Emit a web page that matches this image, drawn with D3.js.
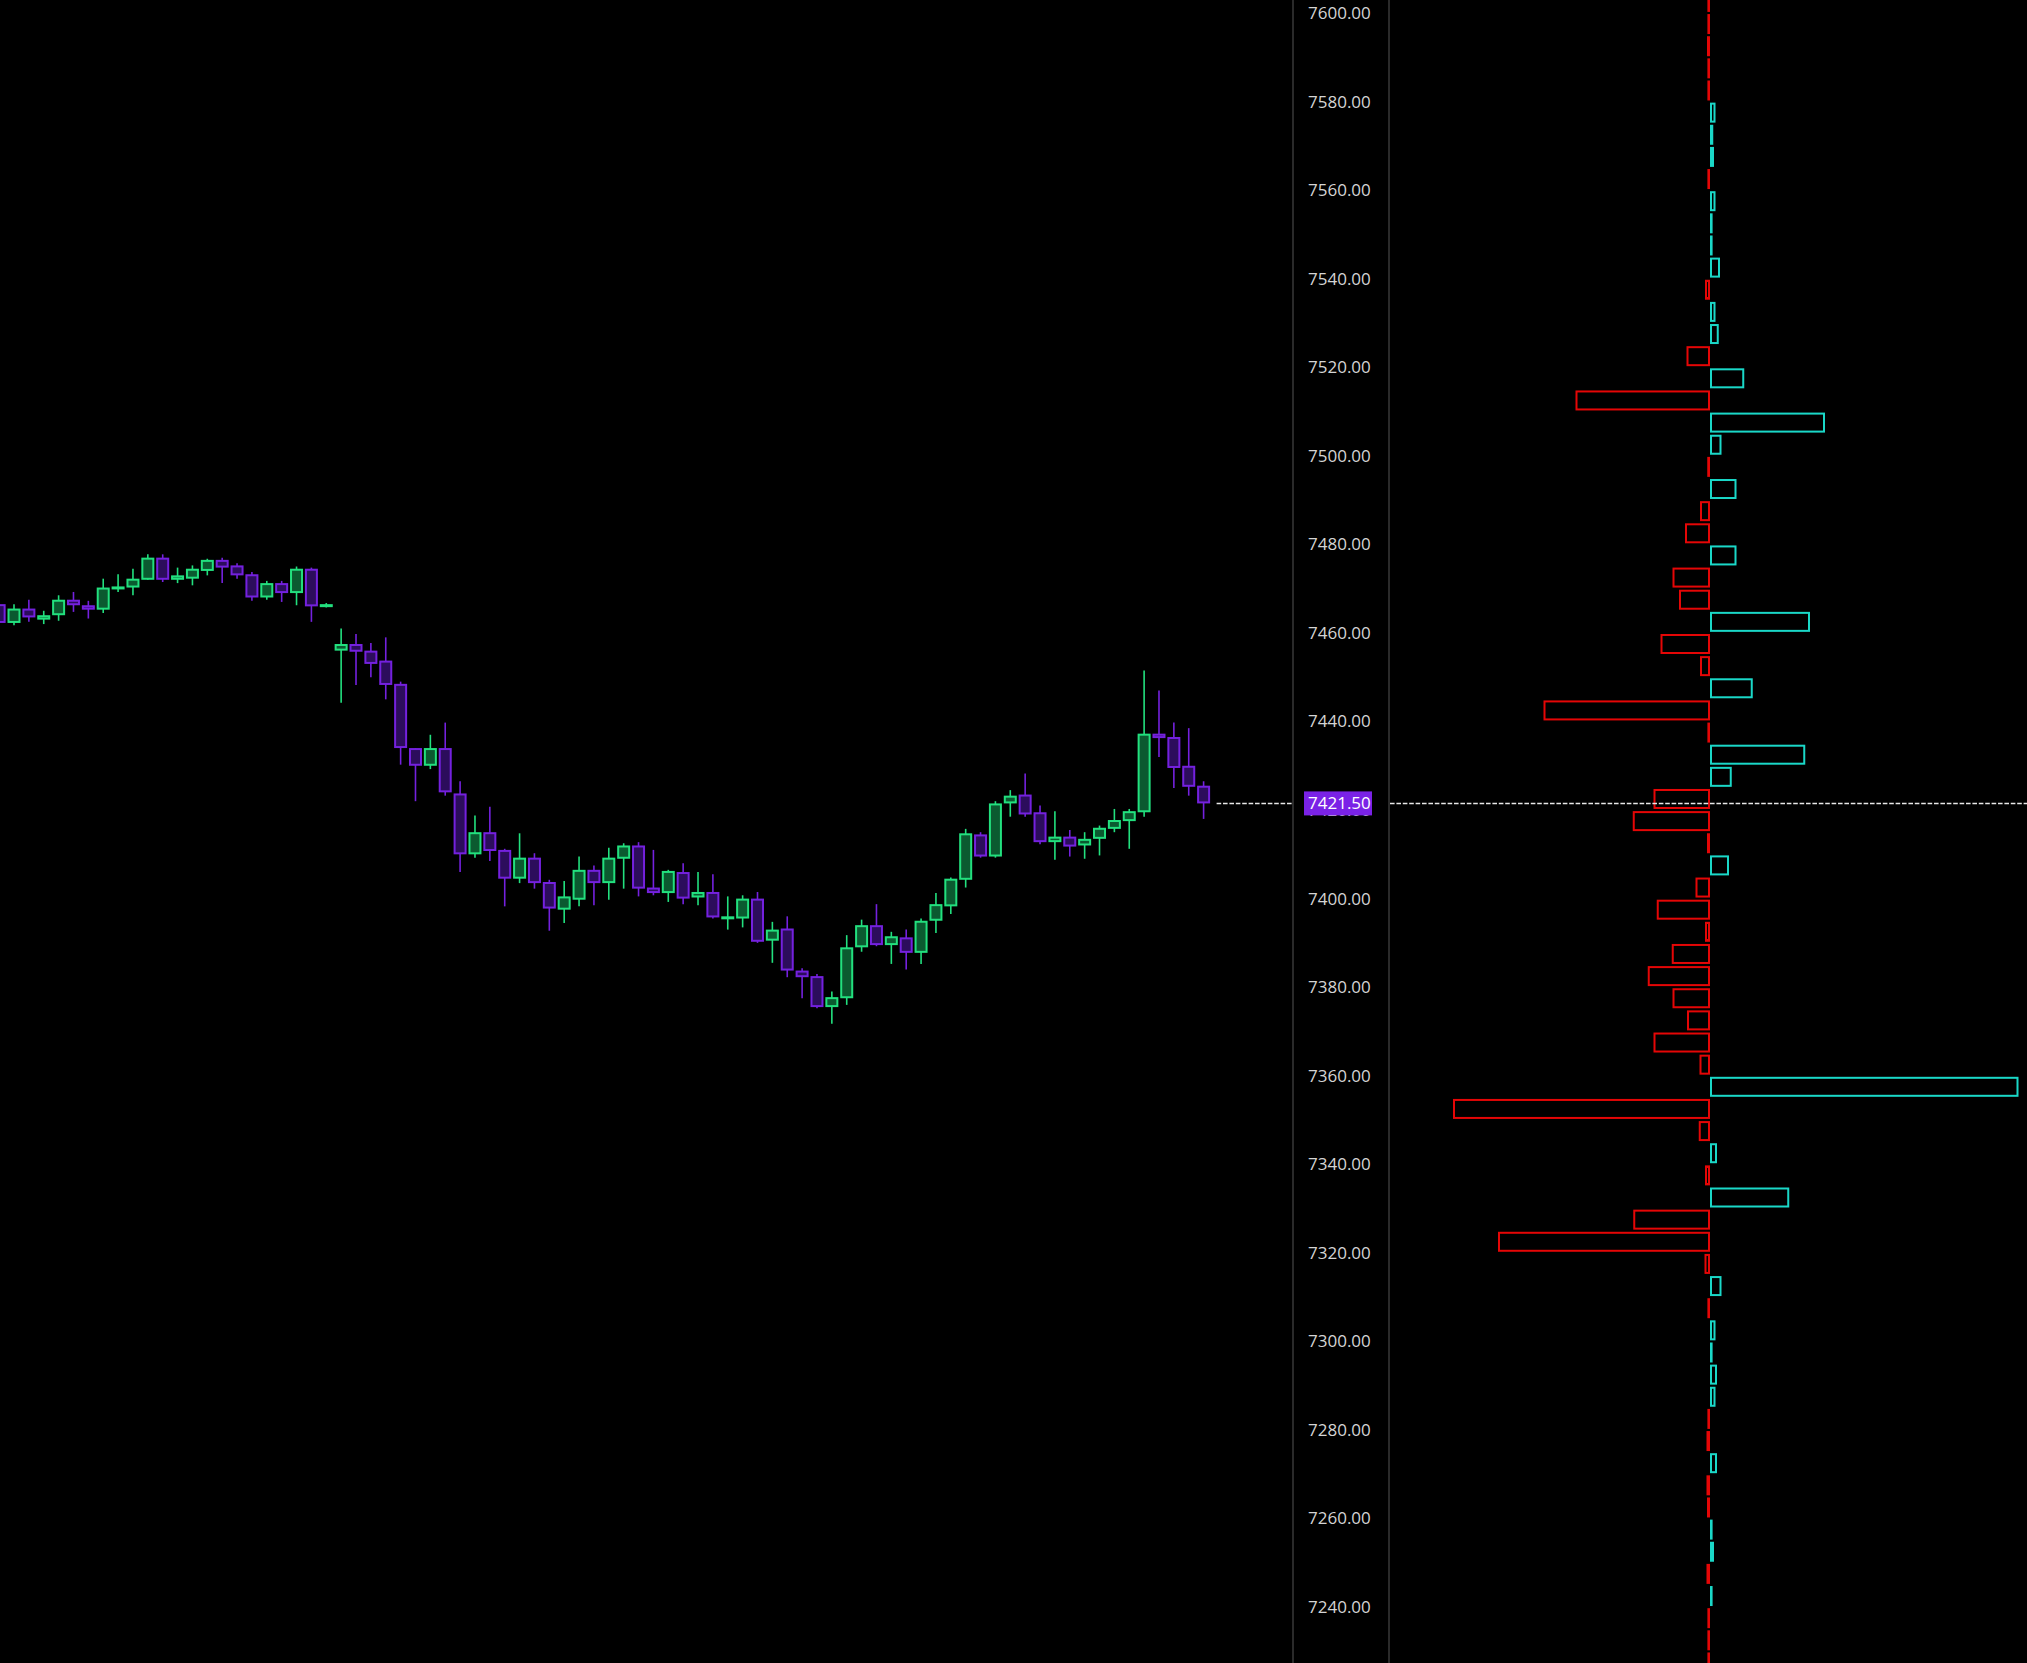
<!DOCTYPE html>
<html><head><meta charset="utf-8">
<script src="https://cdn.jsdelivr.net/npm/d3@7/dist/d3.min.js"></script>
<style>html,body{margin:0;padding:0;background:#000;overflow:hidden}</style>
</head><body>
<svg id="c" width="2027" height="1663"></svg>
<script>
// ---- candle data (bar index -1 is the partially visible first bar) ----
const barIdx = [-1,0,1,2,3,4,5,6,7,8,9,10,11,12,13,14,15,16,17,18,19,20,21,22,23,24,25,26,27,28,29,30,31,32,33,34,35,36,37,38,39,40,41,42,43,44,45,46,47,48,49,50,51,52,53,54,55,56,57,58,59,60,61,62,63,64,65,66,67,68,69,70,71,72,73,74,75,76,77,78,79,80];
const opens  = [7466.5,7462.25,7465.5,7463,7464,7467.5,7466.25,7465.25,7470,7470.25,7472,7477,7472,7472.25,7474,7476.5,7475.25,7473.25,7468,7471.25,7469,7474.5,7466,7456,7457.5,7456,7453.75,7448.5,7434,7430,7434,7423.75,7410,7415,7411,7404.5,7409.25,7403.75,7397.5,7399.75,7406.5,7403.5,7409,7412,7402.5,7401.25,7406,7400.25,7401.5,7395.5,7395.5,7400,7390.5,7393.25,7383.75,7382.5,7375.5,7377.5,7389,7394,7389.5,7391.25,7387.75,7395,7398.25,7404.25,7414.5,7409.5,7421.5,7423.5,7419.5,7412.75,7414,7412,7413.5,7415.75,7417.5,7419.5,7437.25,7436.5,7430,7425.5];
const highs  = [7466.75,7466.5,7467.5,7465,7468.5,7469.25,7467.25,7472.25,7473.25,7474.5,7477.75,7477.75,7474.75,7475.25,7476.75,7477,7475.75,7473.75,7471.75,7471.75,7475,7474.75,7466.75,7461,7459.75,7457.75,7459,7449,7434,7437,7439.75,7426.5,7418.75,7420.75,7411.25,7414.75,7410.25,7404.25,7404,7409.5,7407.5,7411.5,7412.5,7412.75,7411,7406.5,7408,7406,7405.5,7400.5,7400.75,7401.5,7394.75,7396,7384.25,7383,7379,7391.75,7395.25,7398.75,7392.5,7393,7395.5,7401.25,7404.75,7415.75,7415,7422,7424.5,7428.25,7421,7419.75,7415.5,7415,7416.5,7420.25,7420.25,7451.5,7447,7439.75,7438.5,7426.5];
const lows   = [7462,7461.75,7462.5,7462,7462.75,7464.75,7463.25,7464.5,7469.25,7468.5,7472,7471.5,7471.25,7470.75,7473,7471.25,7472.25,7467.25,7467.5,7467,7466.25,7462.5,7465.75,7444.25,7448.25,7450,7445,7430.25,7422,7429.25,7423.25,7406,7409.25,7408.5,7398.25,7403.5,7402.25,7392.75,7394.5,7398.25,7398.5,7399.75,7402.25,7400.5,7400.75,7399.25,7398.75,7398.5,7395.5,7393,7393.5,7390,7385.5,7382.25,7377.5,7375.25,7371.75,7376,7388,7389.25,7385.25,7384,7385.25,7392.25,7396.5,7402.5,7409.25,7409.25,7418.5,7418.5,7412.25,7408.75,7409.5,7409,7409.75,7415,7411.25,7418.5,7432,7425,7423.25,7418];
const closes = [7462.25,7465.5,7463.5,7464,7467.5,7466.25,7465.25,7470.25,7470.5,7472.25,7477,7472,7473,7474.5,7476.5,7474.75,7473,7468,7471.25,7469,7474.5,7466,7466.5,7457.5,7455.75,7453,7448.25,7434,7430,7434,7424,7410,7415,7410.75,7404.5,7409.25,7403.5,7397.75,7400.5,7406.5,7403.5,7409.25,7412,7402.25,7401.25,7406.25,7400,7401.5,7395.75,7396,7400,7390.25,7393,7383.75,7382.25,7375.5,7377.75,7389,7394,7389.5,7391.5,7387.75,7395,7398.75,7404.5,7414.75,7409.5,7421.5,7423.25,7419,7412.75,7414,7411.75,7413.5,7416,7417.75,7419.75,7437.25,7436.25,7429.5,7425.25,7421.5];

// ---- volume-delta profile, 5-point bins (bin low price) ----
const binLows = [7600,7595,7590,7585,7580,7575,7570,7565,7560,7555,7550,7545,7540,7535,7530,7525,7520,7515,7510,7505,7500,7495,7490,7485,7480,7475,7470,7465,7460,7455,7450,7445,7440,7435,7430,7425,7420,7415,7410,7405,7400,7395,7390,7385,7380,7375,7370,7365,7360,7355,7350,7345,7340,7335,7330,7325,7320,7315,7310,7305,7300,7295,7290,7285,7280,7275,7270,7265,7260,7255,7250,7245,7240,7235,7230,7225];
const binDelta = [-6,-8,-12,-6,-6,22,13,16,-7,22,9,10,40,-20,22,35,-94,137,-538,460,46,-11,106,-40,-100,106,-150,-124,400,-198,-40,171,-666,-9,381,87,-226,-309,-12,76,-58,-213,-20,-153,-249,-150,-92,-226,-42,1234,-1028,-45,28,-20,317,-307,-848,-22,46,-7,22,8,28,22,-6,-14,28,-14,-12,10,16,-14,7,-9,-9,-7];

// ---- price axis ----
const tickValues = [7240,7260,7280,7300,7320,7340,7360,7380,7400,7420,7440,7460,7480,7500,7520,7540,7560,7580,7600];
const lastPrice = 7421.5;

const W = 2027, H = 1663;
const svg = d3.select("#c");
svg.append("rect").attr("width", W).attr("height", H).attr("fill", "#000");

const y = d3.scaleLinear().domain([7240, 7600]).range([1607.1, 13]);
const x = d3.scaleLinear().domain([0, 80]).range([14, 1203.6]);
const axisX = 1293, profLeft = 1389, profCenter = 1710;
const xP = d3.scaleLinear().domain([0, 1234]).range([0, 308.5]);

const GREEN = "#22e07e", GREEN_FILL = "#0b5a30";
const PURPLE = "#7421de", PURPLE_FILL = "#2c0d5c";
const CYAN = "#1ad8c8", RED = "#e50606";

const candles = barIdx.map((k, i) => ({k, o: opens[i], h: highs[i], l: lows[i], c: closes[i]}));

// separators
svg.append("line").attr("x1", axisX).attr("x2", axisX).attr("y1", 0).attr("y2", H)
  .attr("stroke", "#383838").attr("stroke-width", 1.5);
svg.append("line").attr("x1", profLeft).attr("x2", profLeft).attr("y1", 0).attr("y2", H)
  .attr("stroke", "#383838").attr("stroke-width", 1.5);

// candles
const cg = svg.append("g");
const bodyW = 11;
cg.selectAll("line.wick").data(candles).join("line")
  .attr("class", "wick")
  .attr("x1", d => x(d.k)).attr("x2", d => x(d.k))
  .attr("y1", d => y(d.h)).attr("y2", d => y(d.l))
  .attr("stroke", d => d.c >= d.o ? GREEN : PURPLE)
  .attr("stroke-width", 1.6);
cg.selectAll("rect.body").data(candles).join("rect")
  .attr("class", "body")
  .attr("x", d => x(d.k) - bodyW / 2)
  .attr("width", bodyW)
  .attr("y", d => y(Math.max(d.o, d.c)) + 1)
  .attr("height", d => Math.max(Math.abs(y(d.o) - y(d.c)) - 2, 1))
  .attr("fill", d => d.c >= d.o ? GREEN_FILL : PURPLE_FILL)
  .attr("stroke", d => d.c >= d.o ? GREEN : PURPLE)
  .attr("stroke-width", 2);

// last price dashed line
const yl = y(lastPrice);
svg.append("line").attr("x1", x(80) + 13).attr("x2", axisX).attr("y1", yl).attr("y2", yl)
  .attr("stroke", "#e8e8e8").attr("stroke-width", 1.5).attr("stroke-dasharray", "4.6,1.8");

// profile
const bins = binLows.map((b, i) => ({b, v: binDelta[i]}));
const pg = svg.append("g");
pg.selectAll("rect").data(bins).join("rect")
  .attr("x", d => {
    const w = Math.max(xP(Math.abs(d.v)) - 2, 0.6);
    return d.v >= 0 ? profCenter + 1 : profCenter - 1 - w;
  })
  .attr("width", d => Math.max(xP(Math.abs(d.v)) - 2, 0.6))
  .attr("y", d => y(d.b + 2.5) - 9)
  .attr("height", 18)
  .attr("fill", "#000")
  .attr("stroke", d => d.v >= 0 ? CYAN : RED)
  .attr("stroke-width", 2);

svg.append("line").attr("x1", profLeft + 1).attr("x2", W).attr("y1", yl).attr("y2", yl)
  .attr("stroke", "#e8e8e8").attr("stroke-width", 1.5).attr("stroke-dasharray", "4.6,1.8");

// price axis labels
const ag = svg.append("g").attr("transform", `translate(${axisX},0)`)
  .call(d3.axisRight(y).tickValues(tickValues).tickFormat(d3.format(".2f")).tickSize(0).tickPadding(15));
ag.select(".domain").remove();
ag.selectAll("text").attr("fill", "#d4d4d4")
  .style("font-family", "'Open Sans', 'Liberation Sans', sans-serif").style("font-size", "17px");

// last price label
svg.append("rect").attr("x", 1304).attr("y", yl - 12).attr("width", 68).attr("height", 24).attr("fill", "#7a22e6");
svg.append("text").attr("x", 1308).attr("y", yl).attr("dy", "0.35em").text(d3.format(".2f")(lastPrice))
  .attr("fill", "#ffffff").style("font-family", "'Open Sans', 'Liberation Sans', sans-serif").style("font-size", "17px");
</script>
</body></html>
